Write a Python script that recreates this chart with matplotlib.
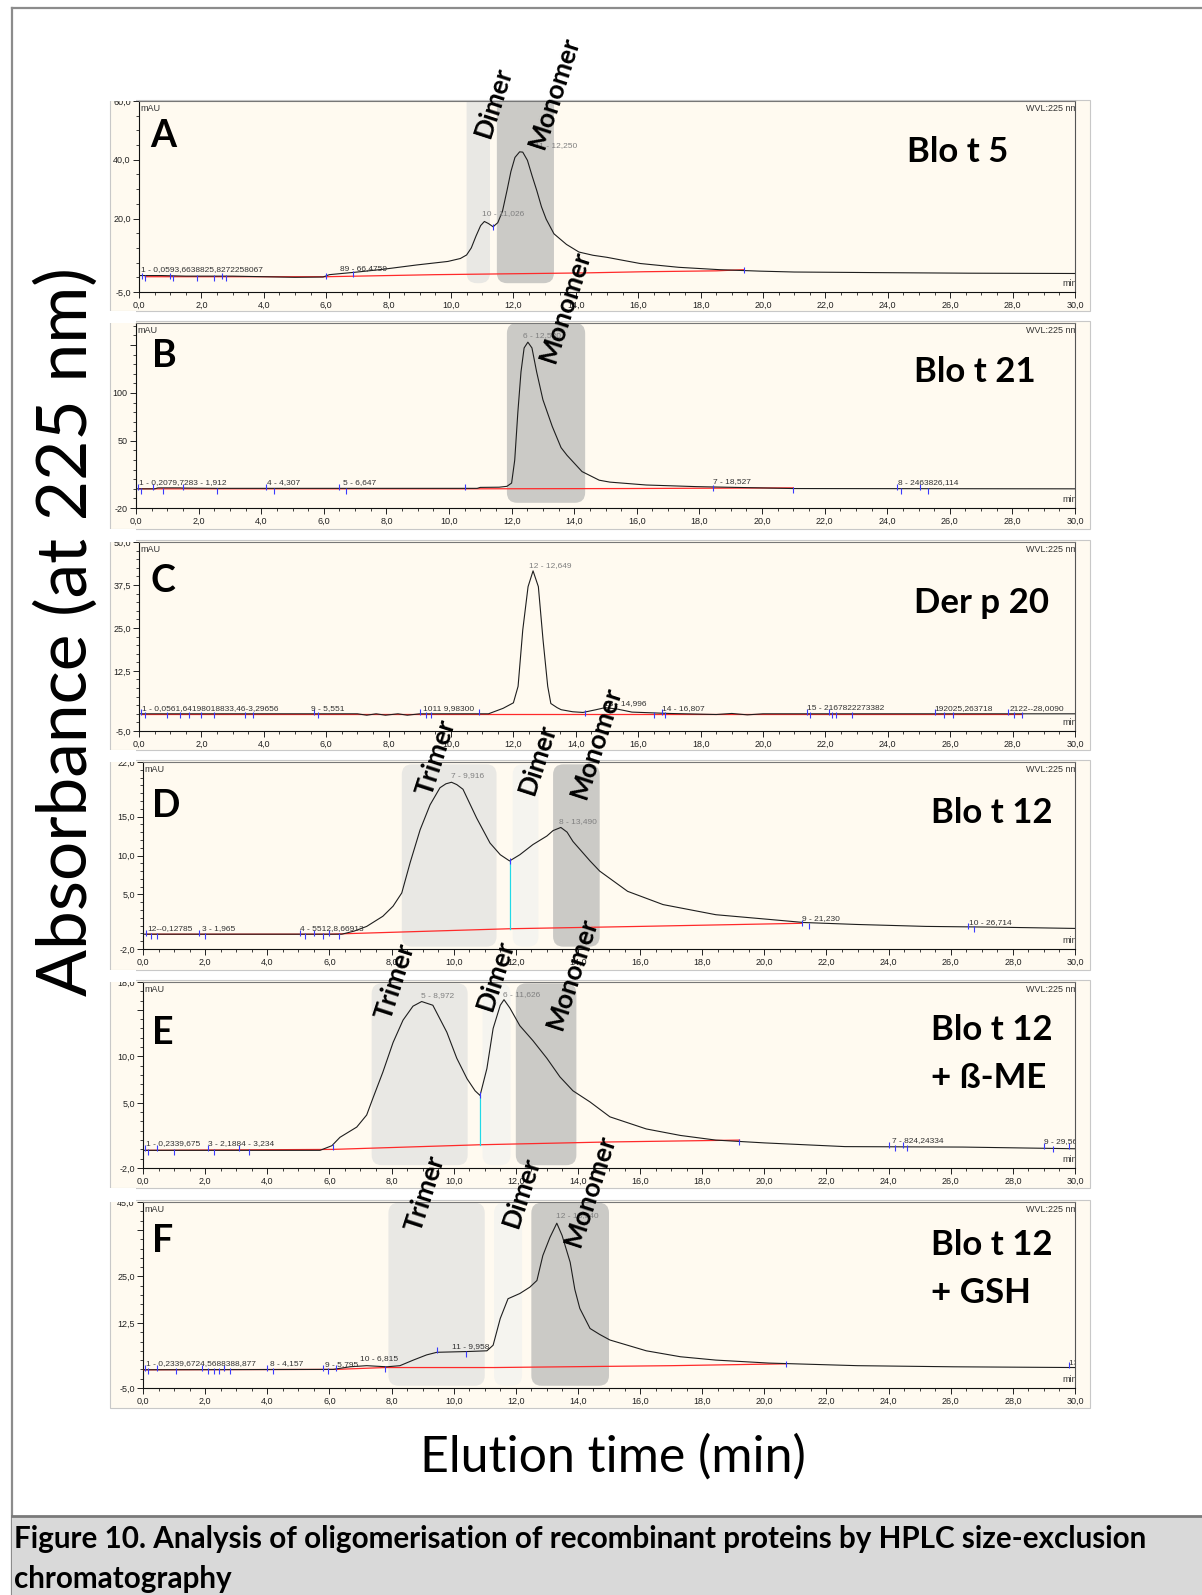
import matplotlib
matplotlib.use("Agg")
import matplotlib.pyplot as plt
from matplotlib.patches import Rectangle, FancyBboxPatch
from matplotlib.lines import Line2D
from matplotlib.ticker import MultipleLocator
import numpy as np

W, H = 1202, 1595
CREAM = "#fffaf0"
SHADE = {"light": "#e9e8e4", "pale": "#f5f4ef", "dark": "#cbcac6"}

plt.rcParams["font.family"] = ["Liberation Sans", "DejaVu Sans"]

# ---- traces: (time min, absorbance mAU) ----
a_trace = [(0.0, 0.6), (0.7, 0.6), (1.5, 0.4), (3.0, 0.4), (4.0, 0.2), (5.0, 0.0), (5.9, 0.1),
           (6.1, 0.9), (6.5, 1.3), (7.0, 1.8), (7.8, 2.7), (8.9, 4.2), (9.9, 5.4), (10.3, 6.4),
           (10.5, 7.6), (10.65, 10.0), (10.8, 14.0), (10.95, 17.6), (11.07, 19.0), (11.2, 18.3),
           (11.35, 17.2), (11.5, 18.6), (11.65, 22.5), (11.8, 29.8), (11.92, 36.0), (12.05, 40.8),
           (12.2, 42.7), (12.3, 42.6), (12.45, 39.8), (12.6, 34.5), (12.75, 29.5), (12.9, 24.0),
           (13.05, 19.8), (13.3, 14.8), (13.7, 11.2), (14.1, 8.6), (14.55, 7.5), (15.0, 6.8),
           (15.4, 6.0), (16.06, 4.7), (17.3, 3.4), (18.6, 2.6), (19.9, 2.1), (21.0, 1.8),
           (23.6, 1.6), (26.6, 1.4), (30.0, 1.3)]
b_trace = [(0.0, 0.0), (0.6, 0.0), (0.7, 1.0), (1.4, 1.0), (1.5, 0.8), (2.6, 0.5), (10.9, 0.5),
           (11.0, 1.5), (11.6, 1.7), (11.85, 2.6), (12.0, 6.0), (12.1, 30.0), (12.2, 80.0),
           (12.3, 122.0), (12.4, 147.0), (12.52, 153.0), (12.65, 147.0), (12.8, 122.0),
           (13.0, 93.0), (13.3, 65.0), (13.58, 43.0), (13.77, 35.0), (14.25, 18.0), (14.8, 9.0),
           (15.14, 7.0), (16.3, 4.0), (17.9, 2.3), (21.0, 0.3), (30.0, 0.0)]
c_trace = [(0.0, 0.0), (7.0, 0.0), (7.3, -0.4), (7.6, 0.0), (7.9, -0.4), (8.3, 0.0), (8.6, -0.4),
           (9.0, 0.0), (11.2, 0.0), (11.67, 1.6), (12.0, 3.2), (12.15, 8.0), (12.3, 24.4),
           (12.47, 37.0), (12.63, 41.6), (12.8, 37.0), (12.95, 21.5), (13.1, 8.0), (13.2, 3.0),
           (13.4, 1.8), (13.53, 1.2), (13.9, 0.6), (14.23, 0.4), (14.65, 1.2), (14.94, 1.8),
           (15.32, 1.4), (15.8, 0.5), (17.0, 0.1), (18.5, -0.2), (19.0, 0.1), (19.5, -0.3),
           (20.0, 0.0), (30.0, 0.0)]
d_trace = [(0.0, -0.1), (6.4, -0.1), (6.8, 0.3), (7.2, 0.9), (7.72, 2.2), (8.05, 3.5), (8.33, 5.2),
           (8.6, 9.1), (8.92, 13.3), (9.24, 16.5), (9.56, 18.7), (9.75, 19.2), (9.93, 19.4),
           (10.1, 19.1), (10.3, 18.5), (10.74, 14.8), (11.17, 11.6), (11.5, 10.1), (11.8, 9.3),
           (12.13, 10.1), (12.55, 11.4), (13.0, 12.5), (13.2, 13.2), (13.45, 13.6), (13.65, 13.0),
           (13.84, 11.8), (14.39, 9.3), (14.7, 8.0), (15.6, 5.4), (16.74, 3.7), (18.44, 2.4),
           (20.15, 1.8), (21.27, 1.4), (22.97, 1.15), (25.2, 0.9), (27.5, 0.8), (30.0, 0.64)]
e_trace = [(0.0, -0.1), (5.7, -0.1), (6.08, 0.4), (6.34, 1.3), (6.88, 2.4), (7.2, 3.7), (7.4, 5.5),
           (7.72, 8.3), (8.05, 11.5), (8.37, 13.9), (8.69, 15.4), (8.97, 15.9), (9.33, 15.5),
           (9.78, 12.6), (10.1, 9.8), (10.43, 7.6), (10.69, 6.3), (10.85, 5.8), (11.07, 8.7),
           (11.27, 13.0), (11.5, 15.5), (11.62, 16.1), (11.81, 15.2), (12.13, 13.3), (12.55, 11.7),
           (13.0, 9.8), (13.42, 7.8), (13.84, 6.3), (14.39, 5.1), (15.03, 3.5), (16.2, 2.2),
           (17.3, 1.5), (18.44, 1.0), (20.0, 0.7), (22.6, 0.3), (26.4, 0.25), (30.0, 0.07)]
f_trace = [(0.0, -0.1), (6.12, 0.0), (6.66, 0.7), (7.2, 1.0), (7.85, 0.7), (8.27, 1.0), (8.7, 2.5),
           (9.13, 3.9), (9.46, 4.6), (10.43, 4.8), (11.07, 5.0), (11.27, 6.5), (11.5, 13.7),
           (11.75, 19.0), (12.13, 20.4), (12.45, 22.1), (12.68, 23.9), (12.87, 30.6), (13.1, 35.5),
           (13.32, 39.3), (13.49, 36.0), (13.75, 28.8), (13.9, 21.5), (14.06, 16.4), (14.39, 11.0),
           (14.7, 9.4), (15.03, 7.9), (16.2, 5.0), (17.3, 3.4), (18.44, 2.5), (20.15, 1.7),
           (23.0, 1.0), (26.1, 0.7), (30.0, 0.5)]

# integration baselines (red)
a_base = [(0.2, 0.2), (6.0, 0.2), (9.5, 0.9), (14.3, 1.5), (16.2, 1.9), (18.5, 2.2), (19.4, 2.6)]
b_base = [(0.1, 0.0), (10.5, 0.0), (15.7, 0.3), (21.0, 1.0)]
c_base = [(0.1, 0.0), (28.3, 0.0)]
d_base = [(0.1, -0.1), (6.0, -0.1), (11.8, 0.6), (16.0, 0.9), (21.2, 1.3)]
e_base = [(0.1, -0.1), (6.1, 0.0), (10.85, 0.5), (15.0, 0.8), (19.2, 1.0)]
f_base = [(0.0, -0.1), (6.2, 0.0), (7.8, 0.5), (11.3, 0.5), (17.0, 1.0), (20.7, 1.5)]

# peak labels as printed (text, time, label height); crowded ones print on top of each other
a_peaks = [("1 - 0,0593,6638825,8272258067", 0.05, 1.5), ("89 - 66,4759", 6.45, 1.8),
           ("10 - 11,026", 11.0, 20.5), ("11 - 12,250", 12.7, 43.5)]
b_peaks = [("1 - 0,2079,7283 - 1,912", 0.1, 3), ("4 - 4,307", 4.2, 3), ("5 - 6,647", 6.6, 3),
           ("6 - 12,530", 12.35, 156), ("7 - 18,527", 18.45, 3.5), ("8 - 2463826,114", 24.35, 3)]
c_peaks = [("1 - 0,0561,64198018833,46-3,29656", 0.1, 0.6), ("9 - 5,551", 5.5, 0.6),
           ("1011 9,98300", 9.1, 0.6), ("12 - 12,649", 12.5, 42.2), ("13 - 14,996", 14.9, 2.0),
           ("14 - 16,807", 16.75, 0.6), ("15 - 2167822273382", 21.4, 0.6),
           ("192025,263718", 25.5, 0.6), ("2122--28,0090", 27.9, 0.6)]
d_peaks = [("12--0,12785", 0.15, 0.2), ("3 - 1,965", 1.9, 0.2), ("4 - 5512,8,66913", 5.05, 0.2),
           ("7 - 9,916", 9.9, 19.8), ("8 - 13,490", 13.4, 13.9), ("9 - 21,230", 21.2, 1.5),
           ("10 - 26,714", 26.6, 0.9)]
e_peaks = [("1 - 0,2339,675", 0.1, 0.2), ("3 - 2,1884 - 3,234", 2.1, 0.2), ("5 - 8,972", 8.95, 16.2),
           ("6 - 11,626", 11.6, 16.3), ("7 - 824,24334", 24.1, 0.6), ("9 - 29,562", 29.0, 0.5)]
f_peaks = [("1 - 0,2339,6724,5688388,877", 0.1, 0.6), ("8 - 4,157", 4.1, 0.6),
           ("9 - 5,795", 5.85, 0.4), ("10 - 6,815", 7.0, 1.9), ("11 - 9,958", 9.95, 5.3),
           ("12 - 13,340", 13.3, 40.3), ("13 - 29,850", 29.8, 0.8)]

# peak delimiter ticks (blue)
a_marks = [(0.1, 0.4), (0.2, -0.4), (1.0, 0.4), (1.1, -0.4), (1.85, -0.4), (2.4, -0.4), (2.65, 0.4),
           (2.8, -0.4), (6.0, 0.6), (6.85, 1.0), (11.35, 17.2), (19.4, 2.6)]
b_marks = [(0.05, 2), (0.15, -2), (0.55, 2), (0.85, -2), (1.5, 2), (2.6, -2), (4.15, 2), (4.4, -2),
           (6.5, 2), (6.7, -2), (10.5, 2), (18.45, 0.8), (21.0, -1), (24.3, 2), (24.45, -2),
           (25.05, 2), (25.3, -2)]
c_marks = [(0.05, 0.4), (0.2, -0.4), (0.9, -0.4), (1.3, -0.4), (1.6, -0.4), (2.0, -0.4), (2.4, -0.4),
           (3.4, -0.4), (3.65, -0.4), (5.6, 0.4), (5.75, -0.4), (9.0, 0.4), (9.2, -0.4), (9.35, -0.4),
           (10.9, 0.4), (14.3, 0.3), (16.5, -0.4), (16.75, 0.4), (16.85, -0.4), (21.4, 0.4),
           (21.5, -0.4), (22.1, 0.4), (22.2, -0.4), (22.35, -0.4), (22.85, -0.4), (25.5, 0.4),
           (25.8, -0.4), (26.1, -0.4), (27.85, 0.4), (28.05, -0.4), (28.3, -0.4)]
d_marks = [(0.1, 0.1), (0.25, -0.3), (0.45, -0.3), (1.8, 0.1), (2.0, -0.3), (5.05, 0.1), (5.2, -0.3),
           (5.5, 0.1), (5.8, -0.3), (6.0, 0.1), (6.3, -0.3), (11.8, 9.3), (21.2, 1.3), (21.45, 1.0),
           (26.55, 1.0), (26.75, 0.6)]
e_marks = [(0.05, 0.1), (0.15, -0.3), (0.45, 0.1), (1.0, -0.3), (2.1, 0.1), (2.3, -0.3), (3.1, 0.1),
           (3.4, -0.3), (6.1, 0.3), (10.85, 5.8), (19.2, 0.8), (24.0, 0.5), (24.2, 0.1), (24.45, 0.5),
           (24.6, 0.1), (29.0, 0.4), (29.3, 0.0), (29.8, 0.4)]
f_marks = [(0.05, 0.4), (0.15, -0.4), (0.45, 0.4), (1.05, -0.4), (1.9, 0.4), (2.1, -0.4), (2.3, -0.4),
           (2.45, -0.4), (2.6, 0.4), (2.8, -0.4), (4.0, 0.4), (4.2, -0.4), (5.8, 0.4), (5.95, -0.4),
           (6.2, 0.4), (7.8, 0.0), (9.45, 5.3), (10.4, 4.2), (20.7, 1.5), (29.8, 1.2)]

# y axes
a_yticks, a_ylabels = [-5, 20, 40, 60], ["-5,0", "20,0", "40,0", "60,0"]
b_yticks, b_ylabels = [-20, 50, 100, 150], ["-20", "50", "100", ""]
c_yticks, c_ylabels = [-5, 12.5, 25, 37.5, 50], ["-5,0", "12,5", "25,0", "37,5", "50,0"]
d_yticks, d_ylabels = [-2, 5, 10, 15, 22], ["-2,0", "5,0", "10,0", "15,0", "22,0"]
e_yticks, e_ylabels = [-2, 5, 10, 15, 18], ["-2,0", "5,0", "10,0", "", "18,0"]
f_yticks, f_ylabels = [-5, 12.5, 25, 37.5, 45], ["-5,0", "12,5", "25,0", "", "45,0"]

# oligomer fractions shaded on each run (start, end, shade)
a_regions = [(10.5, 11.25, "light"), (11.47, 13.3, "dark")]
b_regions = [(11.85, 14.35, "dark")]
c_regions = []
d_regions = [(8.33, 11.38, "light"), (11.9, 12.73, "pale"), (13.2, 14.7, "dark")]
e_regions = [(7.36, 10.45, "light"), (10.93, 11.83, "pale"), (12.0, 13.95, "dark")]
f_regions = [(7.9, 11.0, "light"), (11.3, 12.2, "pale"), (12.5, 15.0, "dark")]

letters = ["A", "B", "C", "D", "E", "F"]
samples = ["Blo t 5", "Blo t 21", "Der p 20", "Blo t 12", "Blo t 12\n+ ß-ME", "Blo t 12\n+ GSH"]

fig = plt.figure(figsize=(W / 100, H / 100), dpi=100)


def px_axes(x0, y0, x1, y1):
    return fig.add_axes([x0 / W, 1 - y1 / H, (x1 - x0) / W, (y1 - y0) / H])


def ftext(x, y, s, **kw):
    return fig.text(x / W, 1 - y / H, s, **kw)


def frect(x0, y0, x1, y1, **kw):
    r = Rectangle((x0 / W, 1 - y1 / H), (x1 - x0) / W, (y1 - y0) / H,
                  transform=fig.transFigure, **kw)
    fig.add_artist(r)
    return r


def fline(xs, ys, **kw):
    fig.add_artist(Line2D([x / W for x in xs], [1 - y / H for y in ys],
                          transform=fig.transFigure, **kw))


def draw_panel(box, ylim, yticks, ylabels, yminor, trace, base, peaks, marks,
               regions, region_y, clip_regions, drops):
    ax = px_axes(*box)
    ax.set_facecolor("none")
    ax.set_xlim(0, 30)
    ax.set_ylim(*ylim)

    px_x = (box[2] - box[0]) / 30.0
    px_y = (box[3] - box[1]) / (ylim[1] - ylim[0])
    for t0, t1, kind in regions:
        ax.add_patch(FancyBboxPatch((t0, region_y[0]), t1 - t0, region_y[1] - region_y[0],
                                    boxstyle="round,pad=0,rounding_size=0.33",
                                    mutation_aspect=px_x / px_y, fc=SHADE[kind], ec="none",
                                    zorder=1, clip_on=clip_regions))

    bt, bv = zip(*base)
    ax.plot(bt, bv, color="#ff2a2a", lw=0.9, zorder=3)
    for t, lo, hi in drops:
        ax.plot([t, t], [lo, hi], color="#22d8e8", lw=0.9, zorder=3)
    tt, vv = zip(*trace)
    ax.plot(tt, vv, color="#1e1e1e", lw=0.8, zorder=4)
    mt, mv = zip(*marks)
    ax.plot(mt, mv, ls="none", marker="|", ms=5, mew=0.8, color="#3a3aff", zorder=5)
    for s, t, v in peaks:
        big = v > 0.3 * ylim[1]
        ax.text(t, v, s, fontsize=6.0, color="#808080" if big else "#333333",
                ha="left", va="bottom", zorder=6, clip_on=True)

    ax.set_xticks(np.arange(0, 31, 2))
    ax.set_xticklabels([f"{x:.1f}".replace(".", ",") for x in range(0, 31, 2)])
    ax.xaxis.set_minor_locator(MultipleLocator(0.5))
    ax.set_yticks(yticks)
    ax.set_yticklabels(ylabels)
    ax.yaxis.set_minor_locator(MultipleLocator(yminor))
    ax.tick_params(which="major", length=4, width=0.7, labelsize=6.5, pad=2,
                   colors="#222222")
    ax.tick_params(which="minor", length=2, width=0.6, colors="#222222")
    for side in ["left", "bottom"]:
        ax.spines[side].set_color("#111111")
        ax.spines[side].set_linewidth(0.8)
    ax.spines["top"].set_color("#777777")
    ax.spines["right"].set_color("#555555")
    ax.spines["top"].set_linewidth(0.8)
    ax.spines["right"].set_linewidth(0.8)

    ax.text(0.002, 0.985, "mAU", transform=ax.transAxes, fontsize=6.5, color="#333333",
            ha="left", va="top")
    ax.text(1.003, 0.985, "WVL:225 nm", transform=ax.transAxes, fontsize=6.5,
            color="#333333", ha="right", va="top", clip_on=True)
    ax.text(1.002, 0.02, "min", transform=ax.transAxes, fontsize=6.5, color="#333333",
            ha="right", va="bottom", clip_on=True)
    return ax


# panel frames (cream background)
panel_rows = [(100, 311), (321, 529), (540, 750), (760, 970), (980, 1188), (1200, 1408)]
for y0, y1 in panel_rows:
    frect(110, y0, 1090, y1, fc=CREAM, ec="#c8c8c8", lw=0.8, zorder=-1)

axes_boxes = [(139, 101, 1075, 292), (136, 323, 1075, 508), (139, 542, 1075, 731),
              (143, 762, 1075, 949), (143, 982, 1075, 1168), (143, 1202, 1075, 1388)]

draw_panel(axes_boxes[0], (-5, 60), a_yticks, a_ylabels, 5, a_trace, a_base,
           a_peaks, a_marks, a_regions, (-2.0, 70), True, [])
draw_panel(axes_boxes[1], (-20, 173), b_yticks, b_ylabels, 10, b_trace, b_base,
           b_peaks, b_marks, b_regions, (-14.6, 173), True, [])
draw_panel(axes_boxes[2], (-5, 50), c_yticks, c_ylabels, 2.5, c_trace, c_base,
           c_peaks, c_marks, c_regions, (0, 1), True, [])
draw_panel(axes_boxes[3], (-2, 22), d_yticks, d_ylabels, 1, d_trace, d_base,
           d_peaks, d_marks, d_regions, (-1.7, 21.7), False, [(11.8, 0.6, 9.3)])
draw_panel(axes_boxes[4], (-2, 18), e_yticks, e_ylabels, 1, e_trace, e_base,
           e_peaks, e_marks, e_regions, (-1.7, 17.85), False, [(10.85, 0.5, 5.8)])
draw_panel(axes_boxes[5], (-5, 45), f_yticks, f_ylabels, 2.5, f_trace, f_base,
           f_peaks, f_marks, f_regions, (-4.4, 44.8), False, [])

# white gaps above each panel hide the upper half of the top y tick label
gap_tops = [9, 311, 529, 750, 970, 1188]
for g, bx in zip(gap_tops, axes_boxes):
    frect(98, g, 136, bx[1], fc="white", ec="none", zorder=2.5)

# outer frame and caption box
fline([12, 12], [8, 1595], color="#8c8c8c", lw=1.6, zorder=3)
fline([12, 1202], [8, 8], color="#8c8c8c", lw=1.6, zorder=3)
frect(12, 1516, 1202, 1595, fc="#d9d9d9", ec="none", zorder=3)
fline([12, 1202], [1516, 1516], color="#7a7a7a", lw=2.0, zorder=4)

# panel letters and sample names
letter_pos = [(150, 147), (152, 367), (151, 592), (152, 817), (152, 1044), (152, 1252)]
sample_pos = [(907, 162), (914, 382), (914, 613), (931, 823), (931, 1040), (931, 1255)]
for s, (x, y) in zip(letters, letter_pos):
    ftext(x, y, s, family=["Lato", "DejaVu Sans"], weight="bold", fontsize=27,
          ha="left", va="baseline", zorder=6)
for s, (x, y) in zip(samples, sample_pos):
    for i, line in enumerate(s.split("\n")):
        ftext(x, y + 48 * i, line, family=["Lato", "DejaVu Sans"], weight="bold",
              fontsize=25, ha="left", va="baseline", zorder=6)

# fraction labels
frac_labels = [("Dimer", 493, 102), ("Monomer", 554, 92), ("Monomer", 565, 306),
               ("Trimer", 436, 757), ("Dimer", 537, 759), ("Monomer", 596, 742),
               ("Trimer", 395, 981), ("Dimer", 495, 975), ("Monomer", 572, 973),
               ("Trimer", 425, 1193), ("Dimer", 521, 1192), ("Monomer", 590, 1190)]
for s, x, y in frac_labels:
    ftext(x, y, s, family=["Lato", "DejaVu Sans"], weight="bold", fontsize=19,
          rotation=72, ha="center", va="center", zorder=7)

# axis titles
ftext(66, 632, "Absorbance (at 225 nm)", family=["Lato", "DejaVu Sans"], fontsize=50,
      rotation=90, ha="center", va="center", zorder=6)
ftext(613, 1472, "Elution time (min)", family=["Lato", "DejaVu Sans"], fontsize=36,
      ha="center", va="baseline", zorder=6)

# caption
ftext(14, 1548, "Figure 10. Analysis of oligomerisation of recombinant proteins by HPLC size-exclusion",
      family=["Lato", "DejaVu Sans"], weight="bold", fontsize=21.3, ha="left",
      va="baseline", zorder=6)
ftext(14, 1588, "chromatography", family=["Lato", "DejaVu Sans"], weight="bold",
      fontsize=21.3, ha="left", va="baseline", zorder=6)

fig.savefig("out.png", dpi=100, facecolor="white")
